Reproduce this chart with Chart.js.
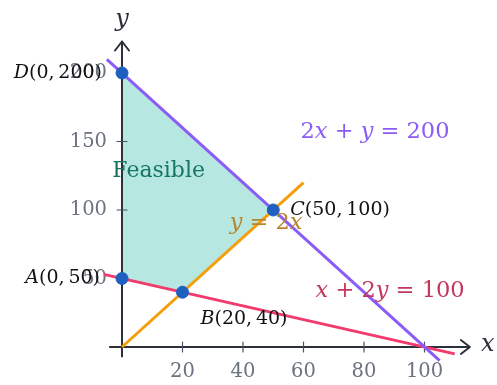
<!DOCTYPE html>
<html lang="en">
<head>
    <meta charset="UTF-8">
    <title>Feasible Region</title>
    <script src="https://cdn.jsdelivr.net/npm/chart.js"></script>
    <style>
        body { margin: 0; padding: 0; background: #fff; }
        #wrap { width: 497px; height: 385px; }
    </style>
</head>
<body>
<div id="wrap">
    <canvas id="lpChart" width="497" height="385"></canvas>
</div>

<script>
    // Tick labels
    const xTicks = [20, 40, 60, 80, 100];
    const yTicks = [50, 100, 150, 200];

    // Corner points of the feasible region (A, B, C, D)
    const vertexNames = ['A', 'B', 'C', 'D'];
    const vertexX = [0, 20, 50, 0];
    const vertexY = [50, 40, 100, 200];

    // Constraint lines
    const purpleX = [-5, 105];   // 2x + y = 200
    const purpleY = [210, -10];
    const redX = [-6, 110];      // x + 2y = 100
    const redY = [53, -5];
    const orangeX = [0, 60];     // y = 2x
    const orangeY = [0, 120];

    const SERIF = '"DejaVu Serif", serif';

    function toPoints(xs, ys) {
        return xs.map((v, i) => ({ x: v, y: ys[i] }));
    }

    // draw a small math string: latin letters italic, the rest upright
    function drawMath(ctx, str, px, py, size, color, align) {
        const parts = [];
        for (const ch of str) {
            const it = /[A-Za-z]/.test(ch);
            ctx.font = (it ? 'italic ' : '') + size + 'px ' + SERIF;
            parts.push({ ch, it, w: ctx.measureText(ch).width });
        }
        const total = parts.reduce((s, p) => s + p.w, 0);
        let cx = align === 'right' ? px - total : (align === 'center' ? px - total / 2 : px);
        ctx.fillStyle = color;
        ctx.textBaseline = 'middle';
        ctx.textAlign = 'left';
        parts.forEach(p => {
            ctx.font = (p.it ? 'italic ' : '') + size + 'px ' + SERIF;
            ctx.fillText(p.ch, cx, py);
            cx += p.w;
        });
    }

    const FILL_INDEX = 4;

    // axes with arrows, tick marks and tick labels (drawn over the fill)
    const axesPlugin = {
        id: 'axes',
        afterDatasetDraw(chart, args) {
            if (args.index !== FILL_INDEX) return;
            const { ctx } = chart;
            const xs = chart.scales.x, ys = chart.scales.y;
            const x0 = xs.getPixelForValue(0), y0 = ys.getPixelForValue(0);
            const xa = xs.getPixelForValue(-4), xb = xs.getPixelForValue(115);
            const ya = ys.getPixelForValue(-7), yb = ys.getPixelForValue(223);

            ctx.save();
            ctx.strokeStyle = '#2b303b';
            ctx.lineWidth = 2;
            ctx.lineCap = 'round';
            ctx.lineJoin = 'round';
            ctx.beginPath();
            ctx.moveTo(xa, y0); ctx.lineTo(xb, y0);
            ctx.moveTo(xb - 9, y0 - 7); ctx.lineTo(xb, y0); ctx.lineTo(xb - 9, y0 + 7);
            ctx.moveTo(x0, ya); ctx.lineTo(x0, yb);
            ctx.moveTo(x0 - 7, yb + 9); ctx.lineTo(x0, yb); ctx.lineTo(x0 + 7, yb + 9);
            ctx.stroke();

            ctx.lineWidth = 1.2;
            ctx.strokeStyle = '#4b5160';
            ctx.beginPath();
            xTicks.forEach(v => {
                const p = xs.getPixelForValue(v);
                ctx.moveTo(p, y0 - 5); ctx.lineTo(p, y0 + 5);
            });
            yTicks.forEach(v => {
                const p = ys.getPixelForValue(v);
                ctx.moveTo(x0 - 5, p); ctx.lineTo(x0 + 5, p);
            });
            ctx.stroke();

            ctx.fillStyle = '#6b7280';
            ctx.font = '19.5px ' + SERIF;
            ctx.textBaseline = 'middle';
            ctx.textAlign = 'center';
            xTicks.forEach(v => ctx.fillText(String(v), xs.getPixelForValue(v), y0 + 25));
            ctx.textAlign = 'right';
            yTicks.forEach(v => ctx.fillText(String(v), x0 - 15, ys.getPixelForValue(v)));
            ctx.restore();
        }
    };

    // text labels on top of everything
    const labelsPlugin = {
        id: 'mathLabels',
        afterDraw(chart) {
            const { ctx } = chart;
            const xs = chart.scales.x, ys = chart.scales.y;
            const px = v => xs.getPixelForValue(v);
            const py = v => ys.getPixelForValue(v);
            ctx.save();
            // axis names
            drawMath(ctx, 'y', px(0), py(0) - 327, 24, '#2b303b', 'center');
            drawMath(ctx, 'x', px(115) + 18, py(0) - 2, 24, '#2b303b', 'center');

            // corner labels
            drawMath(ctx, 'D(0,\u2009200)', px(0) - 20, py(200), 19, '#111', 'right');
            drawMath(ctx, 'C(50,\u2009100)', px(50) + 17, py(100), 19, '#111', 'left');
            drawMath(ctx, 'B(20,\u200940)', px(20) + 18, py(40) + 27, 19, '#111', 'left');
            drawMath(ctx, 'A(0,\u200950)', px(0) - 22, py(50), 19, '#111', 'right');

            // line equations
            drawMath(ctx, '2x + y = 200', px(59), py(157), 22.5, '#8b5cf6', 'left');
            drawMath(ctx, 'x + 2y = 100', px(64), py(41), 22.5, '#c2375c', 'left');
            drawMath(ctx, 'y = 2x', px(35.6), py(90.5), 22.5, '#b8862d', 'left');

            ctx.fillStyle = '#177566';
            ctx.font = '22px ' + SERIF;
            ctx.textAlign = 'left';
            ctx.textBaseline = 'middle';
            ctx.fillText('Feasible', px(-3.2), py(128));
            ctx.restore();
        }
    };

    const ctx = document.getElementById('lpChart').getContext('2d');
    const lpChart = new Chart(ctx, {
        type: 'scatter',
        data: {
            datasets: [
                {
                    label: 'Corners',
                    data: toPoints(vertexX, vertexY),
                    backgroundColor: '#1f5fbf',
                    borderColor: '#1f5fbf',
                    pointRadius: 6,
                    showLine: false,
                    order: 0
                },
                {
                    label: 'y = 2x',
                    data: toPoints(orangeX, orangeY),
                    borderColor: '#f59e0b',
                    borderWidth: 3,
                    pointRadius: 0,
                    showLine: true,
                    order: 1
                },
                {
                    label: '2x + y = 200',
                    data: toPoints(purpleX, purpleY),
                    borderColor: '#8b5cf6',
                    borderWidth: 3,
                    pointRadius: 0,
                    showLine: true,
                    order: 2
                },
                {
                    label: 'x + 2y = 100',
                    data: toPoints(redX, redY),
                    borderColor: '#f03b6c',
                    borderWidth: 3,
                    pointRadius: 0,
                    showLine: true,
                    order: 3
                },
                {
                    label: 'Feasible',
                    data: toPoints(vertexX, vertexY),
                    backgroundColor: '#b6e8e1',
                    borderWidth: 0,
                    pointRadius: 0,
                    showLine: true,
                    fill: 'shape',
                    order: 4
                }
            ]
        },
        options: {
            responsive: false,
            animation: false,
            layout: { padding: { left: 97.8, right: 12, top: 18.2, bottom: 10.6 } },
            scales: {
                x: { type: 'linear', min: -8, max: 120, display: false },
                y: { type: 'linear', min: -20, max: 240, display: false }
            },
            plugins: {
                legend: { display: false },
                tooltip: { enabled: false }
            }
        },
        plugins: [axesPlugin, labelsPlugin]
    });
</script>
</body>
</html>
